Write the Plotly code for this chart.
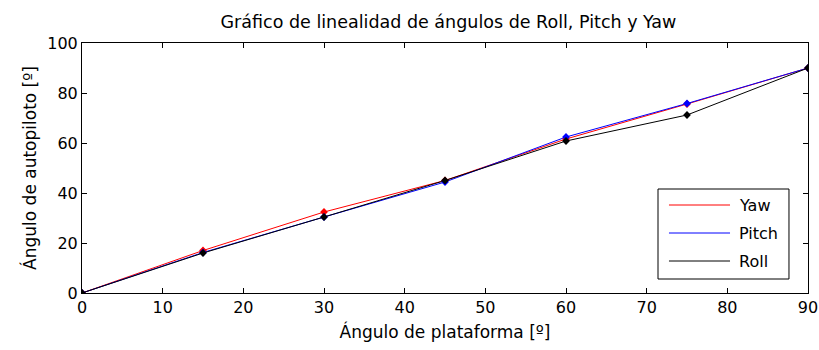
import plotly.graph_objects as go

x_angles = [0, 15, 30, 45, 60, 75, 90]
yaw = [0, 17.0, 32.4, 45.0, 61.6, 75.6, 90.0]
pitch = [0, 16.2, 30.4, 44.4, 62.4, 75.8, 90.0]
roll = [0, 16.0, 30.4, 45.0, 60.8, 71.2, 90.0]

series_names = ["Yaw", "Pitch", "Roll"]
series_colors = ["#ff0000", "#0000ff", "#000000"]
series_values = [yaw, pitch, roll]

FONT = "DejaVu Sans, Arial, sans-serif"

fig = go.Figure()
for name, vals, col in zip(series_names, series_values, series_colors):
    fig.add_trace(go.Scatter(x=x_angles, y=vals, mode="lines", name=name,
                             showlegend=False, line=dict(color=col, width=1)))
for name, vals, col in zip(series_names, series_values, series_colors):
    fig.add_trace(go.Scatter(x=x_angles, y=vals, mode="markers", showlegend=False,
                             name=name,
                             marker=dict(symbol="diamond", size=6, color=col)))

axis_common = dict(showline=True, linecolor="black", linewidth=1, mirror="ticks",
                   ticks="inside", ticklen=5, tickcolor="black", showgrid=False,
                   zeroline=False, automargin=False,
                   tickfont=dict(family=FONT, size=16, color="black"))

# Legend drawn as a boxed key (MATLAB style, long line samples)
shapes = [dict(type="rect", xref="paper", yref="paper", x0=0.7934, x1=0.9738,
               y0=0.056, y1=0.416, line=dict(color="black", width=1),
               fillcolor="white", layer="above")]
annotations = []
legend_rows = [0.352, 0.24, 0.128]
for name, col, yy in zip(series_names, series_colors, legend_rows):
    shapes.append(dict(type="line", xref="paper", yref="paper", x0=0.8085, x1=0.8926,
                       y0=yy, y1=yy, line=dict(color=col, width=1), layer="above"))
    annotations.append(dict(xref="paper", yref="paper", x=0.9022, y=yy, text=name,
                            xanchor="left", yanchor="middle", showarrow=False,
                            font=dict(family=FONT, size=16, color="black")))

fig.update_layout(
    width=819, height=350,
    margin=dict(l=82, r=11, t=43, b=57),
    paper_bgcolor="white", plot_bgcolor="white",
    title=dict(text="Gráfico de linealidad de ángulos de Roll, Pitch y Yaw",
               x=0.5476, xanchor="center", y=0.937, yanchor="middle",
               font=dict(family=FONT, size=17.5, color="black")),
    xaxis=dict(range=[0, 90], tickvals=list(range(0, 91, 10)),
               title=dict(text="Ángulo de plataforma [º]", standoff=9,
                          font=dict(family=FONT, size=17, color="black")),
               **axis_common),
    yaxis=dict(range=[0, 100], tickvals=list(range(0, 101, 20)),
               title=dict(text="Ángulo de autopiloto [º]", standoff=6,
                          font=dict(family=FONT, size=17, color="black")),
               **axis_common),
    shapes=shapes,
    annotations=annotations,
    showlegend=False,
)

fig.write_html("out.html")
